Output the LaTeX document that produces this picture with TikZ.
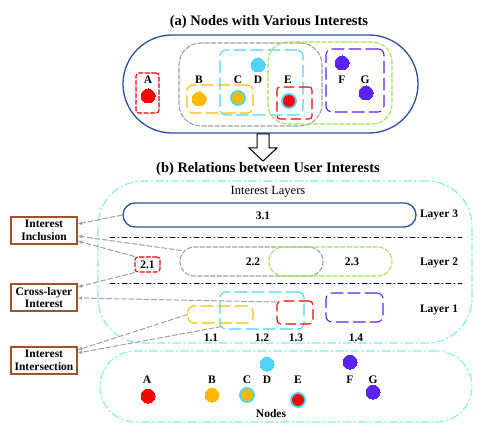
\documentclass[tikz,border=0pt]{standalone}
\usepackage{fontspec}
\setmainfont{Liberation Serif}
\usetikzlibrary{
    arrows.meta, % Tips for the relation arrows.
}

\definecolor{ublue}{HTML}{2A50A6}
\definecolor{ured}{HTML}{FF0000}
\definecolor{uorange}{HTML}{FFBA00}
\definecolor{ucyan}{HTML}{4DD4F7}
\definecolor{ugreen}{HTML}{9EE65A}
\definecolor{upurple}{HTML}{5B21F5}
\definecolor{ugray}{HTML}{A0A0A0}
\definecolor{uaqua}{HTML}{7DF2DC}
\definecolor{ubrown}{HTML}{A0522D}

\tikzset{
    shapebox/.style 2 args = {draw, rectangle, rounded corners = #1,
        minimum width = #2, inner sep = 0pt, line width = 1.1pt},
    longdash/.style = {dash pattern = on 12pt off 5pt},
    shortdash/.style = {dash pattern = on 4.5pt off 2pt},
    dashdot/.style = {dash pattern = on 8pt off 3pt on 1.5pt off 3pt},
    dot/.style 2 args = {circle, fill = #1, draw = #2, line width = 1.8pt,
        minimum size = 14pt, inner sep = 0pt},
    tag/.style = {font = \fontsize{11.5}{12}\selectfont\bfseries, inner sep = 0pt},
    relbox/.style = {draw = ubrown, line width = 1.4pt, minimum width = 66pt,
        minimum height = 27pt, align = center, inner sep = 0pt,
        font = \fontsize{11.5}{12.8}\selectfont\bfseries},
    relarrow/.style = {draw = ugray, line width = 1pt,
        dash pattern = on 5pt off 2.5pt, -{Latex[length = 4.5pt, width = 4pt]}},
}

\begin{document}
\begin{tikzpicture}[%
        x = 1pt,
        y = -1pt,
        line width = 0.9pt,
        line cap = round
    ]

        \useasboundingbox (0, 0) rectangle (484, 438);

        % Part (a): nodes with their interests.
        \node[font = \fontsize{14.5}{16}\selectfont\bfseries] (ta) at (269, 22)
            {(a) Nodes with Various Interests};
        \node[shapebox = {49pt}{295pt}, minimum height = 98pt, draw = ublue,
            line width = 1.3pt] (outer) at (270.5, 84) {};
        \node[shapebox = {3pt}{23pt}, minimum height = 40pt, draw = ured,
            shortdash] (ba) at (147.5, 93) {};
        \node[shapebox = {22pt}{143pt}, minimum height = 83pt, draw = ugray,
            shortdash] (bgray) at (250.5, 84.5) {};
        \node[shapebox = {6pt}{83pt}, minimum height = 65pt, draw = ucyan,
            longdash] (bcyan) at (261.5, 82.5) {};
        \node[shapebox = {20pt}{124pt}, minimum height = 82pt, draw = ugreen,
            shortdash] (bgreen) at (330, 83) {};
        \node[shapebox = {6pt}{58pt}, minimum height = 63pt, draw = upurple,
            longdash] (bpurple) at (355, 80.5) {};
        \node[shapebox = {6pt}{66pt}, minimum height = 28pt, draw = uorange,
            longdash] (borange) at (220, 99) {};
        \node[shapebox = {3pt}{35pt}, minimum height = 32pt, draw = ured,
            dash pattern = on 10pt off 5pt] (be) at (294.5, 103) {};

        % Dots and names of the nodes in (a).
        \node[dot = {ured}{ured}, line width = 0pt] (a1) at (148, 96) {};
        \node[dot = {uorange}{uorange}, line width = 0pt] (b1) at (199, 99) {};
        \node[dot = {uorange}{ucyan}] (c1) at (238, 98) {};
        \node[dot = {ucyan}{ucyan}, line width = 0pt] (d1) at (258, 65) {};
        \node[dot = {ured}{ucyan}] (e1) at (289, 101) {};
        \node[dot = {upurple}{upurple}, line width = 0pt] (f1) at (342, 63) {};
        \node[dot = {upurple}{upurple}, line width = 0pt] (g1) at (366, 93) {};
        \foreach \name/\xpos in {A/148, B/199, C/238, D/258, E/288, F/342, G/365}
            \node[tag] (la\name) at (\xpos, 80) {\name};

        % Hollow arrow between the two parts.
        \draw[line width = 1pt, line cap = butt] (257, 134) -- (269, 134)
            -- (269, 148) -- (277, 148) -- (263, 161) -- (249, 148)
            -- (257, 148) -- cycle;

        % Part (b): layers of interests.
        \node[font = \fontsize{14.5}{16}\selectfont\bfseries] (tb) at (268, 169)
            {(b) Relations between User Interests};
        \node[shapebox = {45pt}{374pt}, minimum height = 162pt, draw = uaqua,
            dashdot] (layers) at (285, 262) {};
        \node[font = \fontsize{12.5}{14}\selectfont] (tl) at (268, 192)
            {Interest Layers};

        \node[shapebox = {12pt}{293pt}, minimum height = 24pt, draw = ublue,
            line width = 1.3pt] (l31) at (269.5, 215) {};
        \node[shapebox = {14.5pt}{143pt}, minimum height = 29pt, draw = ugray,
            shortdash] (l22) at (251.5, 261.5) {};
        \node[shapebox = {14.5pt}{123pt}, minimum height = 29pt, draw = ugreen,
            shortdash] (l23) at (330.5, 261.5) {};
        \node[shapebox = {3pt}{25pt}, minimum height = 15pt, draw = ured,
            shortdash, tag] (l21) at (147.5, 264.5) {2.1};
        \node[shapebox = {6pt}{84pt}, minimum height = 37pt, draw = ucyan,
            longdash] (l12) at (262, 310.5) {};
        \node[shapebox = {6pt}{65pt}, minimum height = 17pt, draw = uorange,
            longdash] (l11) at (220.5, 314.5) {};
        \node[shapebox = {4pt}{36pt}, minimum height = 23pt, draw = ured,
            dash pattern = on 10pt off 5pt] (l13) at (295, 312.5) {};
        \node[shapebox = {6pt}{57pt}, minimum height = 29pt, draw = upurple,
            longdash] (l14) at (354.5, 307.5) {};

        % Separators between the layers.
        \draw[line width = 0.7pt, dash pattern = on 5pt off 3pt on 1pt off 3pt]
            (110, 237) -- (462, 237);
        \draw[line width = 0.7pt, dash pattern = on 5pt off 3pt on 1pt off 3pt]
            (110, 283) -- (462, 283);

        % Label all of the interests and layers.
        \node[tag] (n31) at (263, 216) {3.1};
        \node[tag] (n22) at (253, 262) {2.2};
        \node[tag] (n23) at (352, 262) {2.3};
        \node[tag] (n11) at (211, 338) {1.1};
        \node[tag] (n12) at (262, 338) {1.2};
        \node[tag] (n13) at (296, 338) {1.3};
        \node[tag] (n14) at (356, 338) {1.4};
        \node[tag] (lay3) at (439, 215) {Layer 3};
        \node[tag] (lay2) at (439, 263) {Layer 2};
        \node[tag] (lay1) at (439, 310) {Layer 1};

        % Nodes of part (b).
        \node[shapebox = {35.5pt}{372pt}, minimum height = 71pt, draw = uaqua,
            dashdot] (nodes) at (286, 386.5) {};
        \node[dot = {ured}{ured}, line width = 0pt] (a2) at (148, 396) {};
        \node[dot = {uorange}{uorange}, line width = 0pt] (b2) at (212, 395) {};
        \node[dot = {uorange}{ucyan}] (c2) at (247, 395) {};
        \node[dot = {ucyan}{ucyan}, line width = 0pt] (d2) at (267, 364) {};
        \node[dot = {ured}{ucyan}] (e2) at (298, 400) {};
        \node[dot = {upurple}{upurple}, line width = 0pt] (f2) at (350, 362) {};
        \node[dot = {upurple}{upurple}, line width = 0pt] (g2) at (373, 392) {};
        \foreach \name/\xpos in {A/147, B/212, C/247, D/267, E/298, F/350, G/373}
            \node[tag] (lb\name) at (\xpos, 380) {\name};
        \node[tag] (tn) at (271, 414) {Nodes};

        % Boxes for the kinds of relation.
        \node[relbox] (incl) at (44, 230.5) {Interest\\Inclusion};
        \node[relbox] (cross) at (44, 297.5) {Cross-layer\\Interest};
        \node[relbox] (inter) at (44, 360.5) {Interest\\Intersection};

        % Relation arrows.
        \draw[relarrow] (l31.west) -- ([yshift = 6.5pt]incl.east);
        \draw[relarrow] ([xshift = 2pt, yshift = 11pt]l22.west)
            -- ([yshift = -5.5pt]incl.east);
        \draw[relarrow] (l21.north west) -- ([yshift = -10.5pt]incl.east);
        \draw[relarrow] (l21.south west) -- ([yshift = 10.5pt]cross.east);
        \draw[relarrow] ([yshift = 10.5pt]l13.west) -- ([yshift = -0.5pt]cross.east);
        \draw[relarrow] (l11.west) -- ([yshift = 10.5pt]inter.east);
        \draw[relarrow] ([xshift = 2pt, yshift = 3pt]l12.south west)
            -- ([yshift = 7.5pt]inter.east);
    \end{tikzpicture}
\end{document}
